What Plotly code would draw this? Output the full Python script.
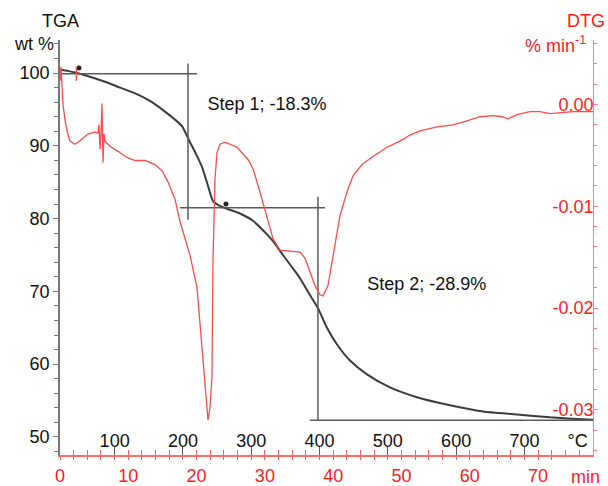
import plotly.graph_objects as go

# ---------------- data ----------------
# TGA curve: time (min) vs weight (%)
tga_time = [0.0, 1.17, 2.64, 4.39, 6.59, 8.78, 11.42, 13.47, 15.37, 16.84, 17.86, 19.03,
            19.91, 20.79, 21.67, 22.40, 23.13, 24.45, 26.35, 28.26, 29.72, 31.19, 32.65,
            34.70, 35.14, 36.60, 37.77, 39.09, 40.56, 42.46, 44.95, 48.32, 52.27, 57.10,
            61.93, 66.90, 71.74, 77.16, 78.04]
tga_wt = [100.45, 100.3, 99.97, 99.5, 98.8, 98.0, 97.04, 96.0, 94.7, 93.6, 92.7, 90.5,
          88.9, 87.1, 84.5, 82.4, 81.9, 81.35, 80.7, 79.7, 78.4, 76.9, 75.0,
          72.4, 71.8, 69.5, 67.7, 65.0, 62.7, 60.5, 58.6, 56.8, 55.45, 54.35,
          53.5, 53.1, 52.7, 52.4, 52.35]

# DTG curve: time (min) vs % min^-1
dtg_time = [0.15, 0.29, 0.44, 0.73, 1.02, 1.46, 2.20, 2.64, 3.22, 4.10, 5.12, 5.56, 5.71,
            5.86, 6.00, 6.15, 6.30, 6.44, 6.59, 7.32, 8.49, 9.81, 10.98, 12.45, 13.91,
            14.93, 15.81, 16.84, 17.57, 19.03, 20.06, 20.79, 21.23, 21.67, 21.96, 22.25,
            22.40, 22.55, 22.69, 22.99, 23.43, 24.16, 25.92, 27.53, 28.26, 29.28, 30.31,
            31.19, 32.21, 33.67, 35.14, 35.87, 36.60, 37.34, 38.07, 38.51, 39.24, 39.97,
            41.00, 42.02, 42.90, 44.22, 45.83, 47.88, 49.78, 51.24, 52.71, 55.20, 57.54,
            59.59, 61.49, 63.40, 64.71, 65.59, 66.91, 68.81, 70.28, 71.74, 73.21, 75.11,
            78.04]
dtg_val = [0.0036, 0.0022, 0.0, -0.0015, -0.0026, -0.0036, -0.0039, -0.0037, -0.0034,
           -0.0029, -0.0027, -0.0028, -0.0020, -0.0044, -0.0029, 0.0001, -0.0057, -0.0029,
           -0.0036, -0.0041, -0.0046, -0.0052, -0.0055, -0.0055, -0.0059, -0.0065, -0.0076,
           -0.0093, -0.0115, -0.0148, -0.0180, -0.0236, -0.0278, -0.0310, -0.0298, -0.0268,
           -0.0154, -0.0102, -0.0073, -0.0047, -0.0039, -0.0037, -0.0042, -0.0054, -0.0063,
           -0.0086, -0.0112, -0.0132, -0.0143, -0.0144, -0.0145, -0.0151, -0.0164, -0.0178,
           -0.0187, -0.0188, -0.0178, -0.0148, -0.0109, -0.0086, -0.0070, -0.0059, -0.0051,
           -0.0042, -0.0036, -0.0030, -0.0026, -0.0022, -0.0020, -0.0016, -0.0012, -0.0011,
           -0.0012, -0.0014, -0.0010, -0.0007, -0.0007, -0.0009, -0.0008, -0.0007, -0.0007]

# step-analysis construction lines (time, wt%)
step1_h_t = [0.29, 20.06]; step1_h_w = [99.9, 99.9]
step1_v_t = [18.74, 18.74]; step1_v_w = [101.3, 79.85]
step2_h_t = [17.57, 38.80]; step2_h_w = [81.5, 81.5]
step2_v_t = [37.77, 37.77]; step2_v_w = [83.0, 52.3]
step2_b_t = [36.60, 78.04]; step2_b_w = [52.3, 52.3]
mark_t = [2.78, 24.3]; mark_w = [100.7, 82.0]
start_mark_t = [0.1, 2.4]; start_mark_w = [99.9, 99.9]

step_labels = ["Step 1; -18.3%", "Step 2; -28.9%"]
step_label_t = [30.3, 53.7]
step_label_w = [95.6, 70.8]

time_range = [0, 78.04]
temp_range = [20, 800.4]
temp_ticks = [100, 200, 300, 400, 500, 600, 700]
temp_label_vals = [100, 200, 300, 400, 500, 600, 700, 778]
temp_label_text = ["100", "200", "300", "400", "500", "600", "700", "°C"]
tga_range = [47.52, 104.54]
dtg_range = [-0.03444, 0.00634]
dtg_ticks = [0.0, -0.01, -0.02, -0.03]
dtg_ticktext = ["0.00", "-0.01", "-0.02", "-0.03"]

RED = "#ff1a1a"
GRAY = "#5a5a5a"
FONT = "Arial, Liberation Sans, sans-serif"

fig = go.Figure()

fig.add_trace(go.Scatter(x=dtg_time, y=dtg_val, mode="lines", xaxis="x", yaxis="y2",
                         line=dict(color="#ff4a4a", width=1.3), showlegend=False))
fig.add_trace(go.Scatter(x=tga_time, y=tga_wt, mode="lines", xaxis="x", yaxis="y",
                         line=dict(color="#3c3c3c", width=2, shape="spline", smoothing=0.6),
                         showlegend=False))
for tx, wy in [(step1_h_t, step1_h_w), (step1_v_t, step1_v_w), (step2_h_t, step2_h_w),
               (step2_v_t, step2_v_w), (step2_b_t, step2_b_w)]:
    fig.add_trace(go.Scatter(x=tx, y=wy, mode="lines", xaxis="x", yaxis="y",
                             line=dict(color=GRAY, width=1.5), showlegend=False))
fig.add_trace(go.Scatter(x=mark_t, y=mark_w, mode="markers", xaxis="x", yaxis="y",
                         marker=dict(color="#222", size=5), showlegend=False))
fig.add_trace(go.Scatter(x=start_mark_t, y=start_mark_w, mode="markers", xaxis="x", yaxis="y",
                         marker=dict(symbol="line-ns-open", color="#ff5050", size=10,
                                     line=dict(width=1.5, color="#ff5050")),
                         showlegend=False))
fig.add_trace(go.Scatter(x=step_label_t, y=step_label_w, mode="text", text=step_labels,
                         xaxis="x", yaxis="y", textfont=dict(size=18, color="#111", family=FONT),
                         showlegend=False))
# invisible helper traces so the overlay axes are drawn
for ax, xr in [("x3", time_range), ("x4", temp_range), ("x5", temp_range)]:
    fig.add_trace(go.Scatter(x=[xr[0]], y=[tga_range[0]], mode="markers", xaxis=ax, yaxis="y",
                             marker=dict(opacity=0), showlegend=False, hoverinfo="skip"))

fig.update_layout(
    width=608, height=486,
    margin=dict(l=60, r=15, t=40, b=31),
    paper_bgcolor="white", plot_bgcolor="white",
    font=dict(family=FONT, size=18, color="#111"),
    xaxis=dict(range=time_range, anchor="y", showline=True, linecolor="#ff6b6b", linewidth=2,
               automargin=False,
               showgrid=False, zeroline=False, tickmode="linear", tick0=0, dtick=10,
               ticks="outside", ticklen=3, tickcolor="#ff5a5a", tickwidth=1,
               tickfont=dict(color=RED, size=18),
               minor=dict(tick0=0, dtick=2, ticks="outside", ticklen=3, tickcolor="#ff5a5a")),
    xaxis3=dict(range=time_range, overlaying="x", anchor="y", side="bottom", showline=False,
                automargin=False,
                showgrid=False, zeroline=False, tickmode="linear", tick0=0, dtick=2,
                ticks="inside", ticklen=5, tickcolor="#ff5a5a", showticklabels=False),
    xaxis4=dict(range=temp_range, overlaying="x", anchor="free", position=0.065, side="bottom",
                showline=False, automargin=False,
                showgrid=False, zeroline=False, tickmode="array", tickvals=temp_label_vals,
                ticktext=temp_label_text, ticks="",
                tickfont=dict(color="#111", size=18)),
    xaxis5=dict(range=temp_range, overlaying="x", anchor="y", side="bottom", showline=False,
                automargin=False,
                showgrid=False, zeroline=False, tickmode="array", tickvals=temp_ticks,
                ticks="inside", ticklen=8, tickcolor=GRAY, showticklabels=False),
    yaxis=dict(range=tga_range, side="left", showline=True, linecolor="#777", linewidth=1.5,
               automargin=False,
               showgrid=False, zeroline=False, tickmode="linear", tick0=0, dtick=10,
               ticks="outside", ticklen=5, tickcolor="#777", tickfont=dict(color="#111", size=18),
               minor=dict(tick0=0, dtick=2, ticks="outside", ticklen=4, tickcolor="#777")),
    yaxis2=dict(range=dtg_range, overlaying="y", side="right", anchor="x", showline=True,
                automargin=False,
                linecolor="#ff8080", linewidth=1.2, showgrid=False, zeroline=False,
                tickmode="array", tickvals=dtg_ticks, ticktext=dtg_ticktext,
                ticks="outside", ticklen=4, tickcolor="#ff8080", ticklabelposition="inside",
                tickfont=dict(color=RED, size=18),
                minor=dict(tick0=0, dtick=0.002, ticks="outside", ticklen=3, tickcolor="#ff8080")),
    annotations=[
        dict(text="TGA", xref="paper", yref="paper", x=0.0, y=1.045, xanchor="center",
             yanchor="middle", showarrow=False, font=dict(size=18, color="#111")),
        dict(text="wt %", xref="paper", yref="paper", x=-0.049, y=0.99, xanchor="center",
             yanchor="middle", showarrow=False, font=dict(size=18, color="#111")),
        dict(text="DTG", xref="paper", yref="paper", x=0.987, y=1.045, xanchor="center",
             yanchor="middle", showarrow=False, font=dict(size=18, color=RED)),
        dict(text="% min<sup>-1</sup>", xref="paper", yref="paper", x=0.929, y=0.99,
             xanchor="center", yanchor="middle", showarrow=False, font=dict(size=18, color=RED)),
        dict(text="min", xref="x", yref="paper", x=76.9, y=-0.052, xanchor="center",
             yanchor="middle", showarrow=False, font=dict(size=18, color=RED)),
    ],
)

fig.write_html("out.html")
